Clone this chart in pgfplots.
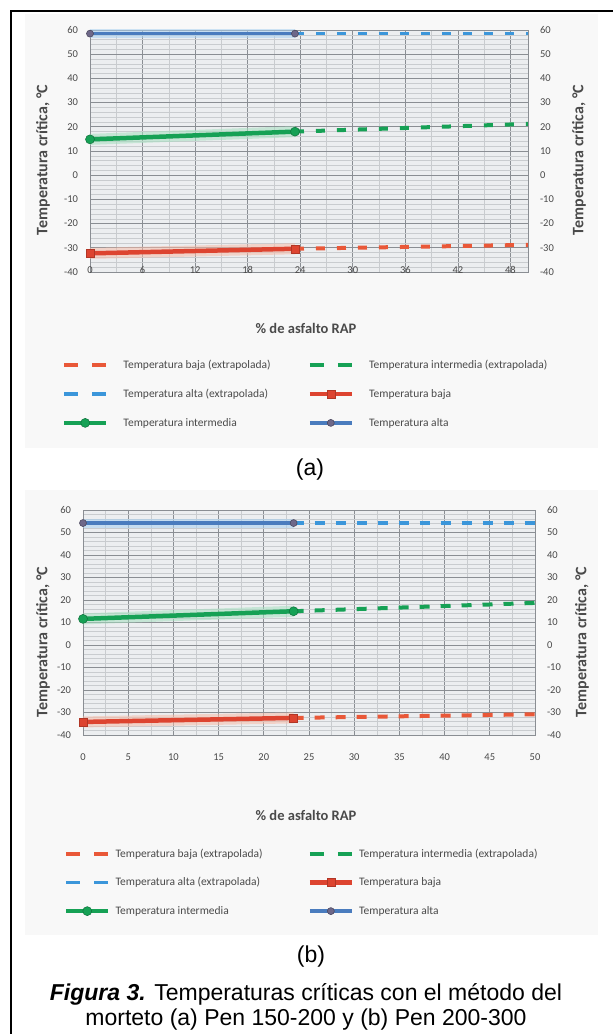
\documentclass[border=0pt]{standalone}
\usepackage{pgfplots}
\usepackage{pgfplotstable}
\pgfplotsset{compat=1.18}
\usepackage{fontspec}
\setmainfont{Carlito}
\newfontfamily\capfont{Liberation Sans}

\definecolor{cblue}{HTML}{4A7CBE}
\definecolor{cbluel}{HTML}{A8D0F0}
\definecolor{cblued}{HTML}{3B96DA}
\definecolor{cgreen}{HTML}{16A155}
\definecolor{cgreenl}{HTML}{A6DFBF}
\definecolor{cred}{HTML}{DD4430}
\definecolor{credl}{HTML}{F6BBA8}
\definecolor{credd}{HTML}{E95838}
\definecolor{cmark}{HTML}{6E6889}
\definecolor{gmaj}{HTML}{8A8E93}
\definecolor{gmin}{HTML}{C9CCCF}
\definecolor{plotbg}{HTML}{ECEEF0}
\definecolor{panel}{HTML}{F8F8F8}
\definecolor{tickc}{HTML}{4A4A4A}

% ---- (a) Pen 150-200 ----
\pgfplotstableread{
x y
0 -32.3
23.4 -30.4
}\aBaja
\pgfplotstableread{
x y
23.4 -30.4
50 -28.8
}\aBajaE
\pgfplotstableread{
x y
0 14.8
23.4 18.0
}\aInt
\pgfplotstableread{
x y
23.4 18.0
50 21.2
}\aIntE
\pgfplotstableread{
x y
0 58.5
23.4 58.5
}\aAlta
\pgfplotstableread{
x y
23.4 58.5
50 58.5
}\aAltaE
% ---- (b) Pen 200-300 ----
\pgfplotstableread{
x y
0 -34.2
23.3 -32.4
}\bBaja
\pgfplotstableread{
x y
23.3 -32.4
50 -30.8
}\bBajaE
\pgfplotstableread{
x y
0 11.6
23.3 15.0
}\bInt
\pgfplotstableread{
x y
23.3 15.0
50 18.7
}\bIntE
\pgfplotstableread{
x y
0 54.2
23.3 54.2
}\bAlta
\pgfplotstableread{
x y
23.3 54.2
50 54.2
}\bAltaE

\pgfplotsset{
  tempaxis/.style={
    scale only axis, anchor=south west,
    xmin=0, xmax=50, ymin=-40, ymax=60,
    ytick={-40,-30,...,60},
    minor y tick num=4, minor x tick num=1,
    grid=both,
    major grid style={draw=gmaj, line width=0.7bp},
    minor grid style={draw=gmin, line width=0.45bp},
    axis background/.style={fill=plotbg},
    axis line style={draw=gmaj, line width=0.9bp},
    major tick style={draw=none}, minor tick style={draw=none},
    tick label style={font=\fontsize{10.5bp}{12bp}\selectfont, text=tickc},
    /pgf/number format/assume math mode=true,
    yticklabel style={xshift=-8.5bp},
    clip=false,
    legend columns=2,
    legend cell align=left,
    legend style={draw=none, fill=none, inner sep=0pt, outer sep=0pt,
      font=\fontsize{11.5bp}{13bp}\selectfont, text=tickc, anchor=north west},
    legend image code/.code={\draw[mark repeat=2,mark phase=2,##1] plot coordinates {(0bp,0bp) (21bp,0bp) (42bp,0bp)};},
  },
  rightaxis/.style={
    scale only axis, anchor=south west,
    xmin=0, xmax=50, ymin=-40, ymax=60,
    ytick={-40,-30,...,60},
    axis x line=none, axis y line*=right,
    axis line style={draw=gmaj, line width=0.9bp},
    major tick style={draw=none}, minor tick style={draw=none},
    tick label style={font=\fontsize{10.5bp}{12bp}\selectfont, text=tickc},
    /pgf/number format/assume math mode=true,
    yticklabel style={xshift=8.5bp},
  },
  halo/.style={line width=11bp, opacity=0.55, forget plot},
  dashedx/.style={line width=4bp, dash pattern=on 9bp off 12bp,
    legend image post style={dash pattern=on 14bp off 14bp}},
}

\begin{document}
\begin{tikzpicture}
\useasboundingbox (0,0) rectangle (613bp,1034bp);
\fill[panel] (25bp,586bp) rectangle (598bp,1020bp);
\fill[panel] (25bp,99bp) rectangle (598bp,544bp);
\draw[line width=2.5bp] (11bp,-2bp) -- (11bp,1023bp) -- (615bp,1023bp);

% ================= (a) =================
\begin{axis}[tempaxis, at={(90bp,762bp)}, width=438bp, height=242bp,
  xtick={0,6,...,48},
  xticklabel style={anchor=center, yshift=2bp},
  legend style={at={(-0.064,-0.357)}, row sep=15bp,
    /tikz/every odd column/.append style={column sep=13bp},
    /tikz/every even column/.append style={column sep=35bp}}]
\addplot[credl, halo] table {\aBaja};
\addplot[cgreenl, halo] table {\aInt};
\addplot[cbluel, halo, line width=9bp] table {\aAlta};
\addplot[credd, dashedx] table {\aBajaE};
\addlegendentry{Temperatura baja (extrapolada)}
\addplot[cgreen, dashedx] table {\aIntE};
\addlegendentry{Temperatura intermedia (extrapolada)}
\addplot[cblued, dashedx, line width=3.5bp] table {\aAltaE};
\addlegendentry{Temperatura alta (extrapolada)}
\addplot[cred, line width=4.5bp, mark=square*, mark size=4bp,
  mark options={fill=cred, draw=cred!80!black, line width=0.5bp}] table {\aBaja};
\addlegendentry{Temperatura baja}
\addplot[cgreen, line width=4.5bp, mark=*, mark size=4.5bp,
  mark options={fill=cgreen, draw=cgreen!70!black, line width=0.5bp}] table {\aInt};
\addlegendentry{Temperatura intermedia}
\addplot[cblue, line width=3.5bp, mark=*, mark size=3.5bp,
  mark options={fill=cmark, draw=cmark!70!black, line width=0.6bp}] table {\aAlta};
\addlegendentry{Temperatura alta}
\end{axis}
\begin{axis}[rightaxis, at={(90bp,762bp)}, width=438bp, height=242bp]
\end{axis}

% ================= (b) =================
\begin{axis}[tempaxis, at={(83bp,299bp)}, width=452bp, height=225bp,
  xtick={0,5,...,50},
  xticklabel style={anchor=center, yshift=-22bp},
  legend style={at={(-0.042,-0.496)}, row sep=15bp,
    /tikz/every odd column/.append style={column sep=3bp},
    /tikz/every even column/.append style={column sep=43bp}}]
\addplot[credl, halo] table {\bBaja};
\addplot[cgreenl, halo] table {\bInt};
\addplot[cbluel, halo, line width=9bp] table {\bAlta};
\addplot[credd, dashedx, dash pattern=on 10bp off 11bp] table {\bBajaE};
\addlegendentry{Temperatura baja (extrapolada)}
\addplot[cgreen, dashedx, dash pattern=on 10bp off 11bp] table {\bIntE};
\addlegendentry{Temperatura intermedia (extrapolada)}
\addplot[cblued, dashedx, line width=3.5bp, dash pattern=on 10bp off 11bp] table {\bAltaE};
\addlegendentry{Temperatura alta (extrapolada)}
\addplot[cred, line width=4.5bp, mark=square*, mark size=4bp,
  mark options={fill=cred, draw=cred!80!black, line width=0.5bp}] table {\bBaja};
\addlegendentry{Temperatura baja}
\addplot[cgreen, line width=4.5bp, mark=*, mark size=4.5bp,
  mark options={fill=cgreen, draw=cgreen!70!black, line width=0.5bp}] table {\bInt};
\addlegendentry{Temperatura intermedia}
\addplot[cblue, line width=3.5bp, mark=*, mark size=3.5bp,
  mark options={fill=cmark, draw=cmark!70!black, line width=0.6bp}] table {\bAlta};
\addlegendentry{Temperatura alta}
\end{axis}
\begin{axis}[rightaxis, at={(83bp,299bp)}, width=452bp, height=225bp]
\end{axis}

% ---- texts ----
\tikzset{ylab/.style={rotate=90, font=\bfseries\fontsize{16bp}{18bp}\selectfont, text=tickc},
         xlab/.style={font=\bfseries\fontsize{14.5bp}{16bp}\selectfont, text=tickc}}
\node[ylab] at (43bp,874bp) {Temperatura crítica, °C};
\node[ylab] at (579bp,874bp) {Temperatura crítica, °C};
\node[ylab] at (43bp,392bp) {Temperatura crítica, °C};
\node[ylab] at (582bp,392bp) {Temperatura crítica, °C};
\node[xlab] at (306bp,706bp) {\% de asfalto RAP};
\node[xlab] at (306bp,219bp) {\% de asfalto RAP};

\node[font=\capfont\fontsize{23bp}{26bp}\selectfont] at (310bp,564bp) {(a)};
\node[font=\capfont\fontsize{23bp}{26bp}\selectfont] at (311bp,77bp) {(b)};
\node[font=\capfont\fontsize{23bp}{26bp}\selectfont] at (306bp,40bp) {\textbf{\textit{Figura 3.}} Temperaturas críticas con el método del};
\node[font=\capfont\fontsize{23bp}{26bp}\selectfont] at (306bp,14bp) {morteto (a) Pen 150-200 y (b) Pen 200-300};
\end{tikzpicture}
\end{document}
